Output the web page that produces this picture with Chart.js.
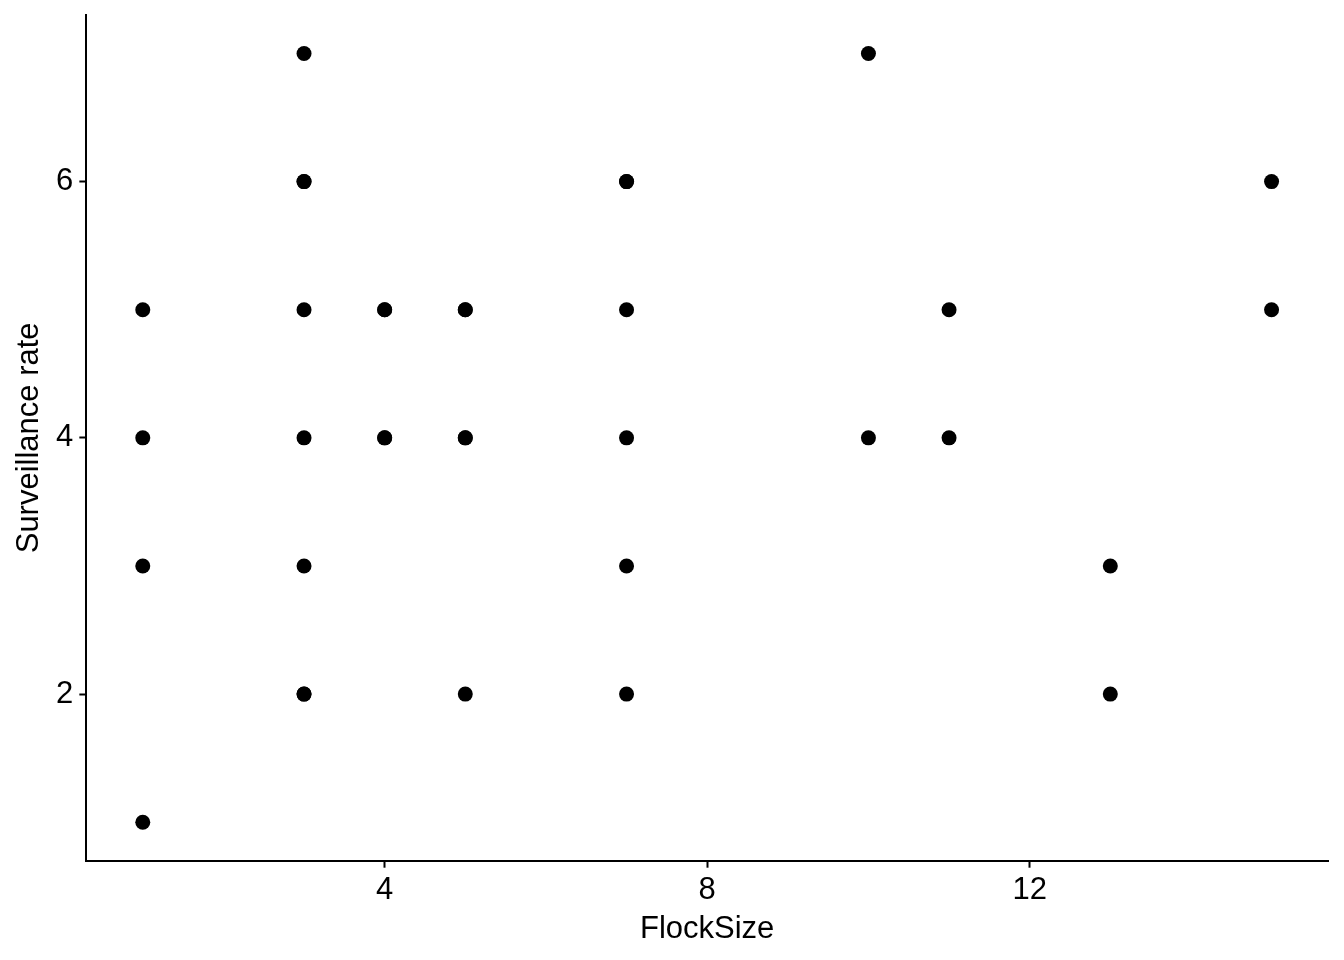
<!DOCTYPE html>
<html>
<head>
<meta charset="utf-8">
<script src="https://cdn.jsdelivr.net/npm/chart.js@4"></script>
<style>
  html, body { margin: 0; padding: 0; background: #fff; }
  #wrap { width: 1344px; height: 960px; }
</style>
</head>
<body>
<div id="wrap"><canvas id="myChart" width="1344" height="960"></canvas></div>
<script>
// observations (repeated pairs overlap, as in the original)
const flockSize = [1, 1, 1, 1,
  3, 3, 3, 3, 3, 3, 3, 3,
  4, 4, 4, 4,
  5, 5, 5, 5, 5,
  7, 7, 7, 7, 7, 7,
  10, 10, 11, 11, 13, 13, 15, 15];
const surveillance = [5, 4, 3, 1,
  7, 6, 6, 5, 4, 3, 2, 2,
  5, 5, 4, 4,
  5, 5, 4, 4, 2,
  6, 6, 5, 4, 3, 2,
  7, 4, 5, 4, 3, 2, 6, 5];
const xTicks = [4, 8, 12];
const yTicks = [2, 4, 6];

const points = flockSize.map((x, i) => ({ x: x, y: surveillance[i] }));

const font = { family: 'Liberation Sans, Arial, sans-serif', size: 31 };
const titleFont = { family: 'Liberation Sans, Arial, sans-serif', size: 31, lineHeight: 1.1 };

const ctx = document.getElementById('myChart').getContext('2d');
const chart = new Chart(ctx, {
  type: 'scatter',
  data: {
    datasets: [{
      data: points,
      backgroundColor: '#000',
      borderWidth: 0,
      pointRadius: 7.5,
    }],
  },
  options: {
    responsive: false,
    animation: false,
    layout: { padding: { top: 15, right: 16, left: 12, bottom: 13 } },
    plugins: { legend: { display: false }, tooltip: { enabled: false } },
    scales: {
      x: {
        type: 'linear',
        min: 0.3,
        max: 15.7,
        afterBuildTicks: (axis) => { axis.ticks = xTicks.map(v => ({ value: v })); },
        ticks: { color: '#000', font: font, padding: 4 },
        grid: { display: true, drawOnChartArea: false, drawTicks: true, tickLength: 7, tickWidth: 2, tickColor: '#000' },
        border: { display: true, color: '#000', width: 2 },
        title: { display: true, text: 'FlockSize', color: '#000', font: titleFont, padding: { top: 0, bottom: 0 } },
      },
      y: {
        type: 'linear',
        min: 0.7,
        max: 7.3,
        afterBuildTicks: (axis) => { axis.ticks = yTicks.map(v => ({ value: v })); },
        // tick labels sit well inside the range, so no extra room is needed above
        afterFit: (axis) => { axis.paddingTop = 0; axis.paddingBottom = 0; },
        ticks: { color: '#000', font: font, padding: 6 },
        grid: { display: true, drawOnChartArea: false, drawTicks: true, tickLength: 7, tickWidth: 2, tickColor: '#000' },
        border: { display: true, color: '#000', width: 2 },
        title: { display: true, text: 'Surveillance rate', color: '#000', font: titleFont, padding: { top: 0, bottom: 4 } },
      },
    },
  },
});
</script>
</body>
</html>
